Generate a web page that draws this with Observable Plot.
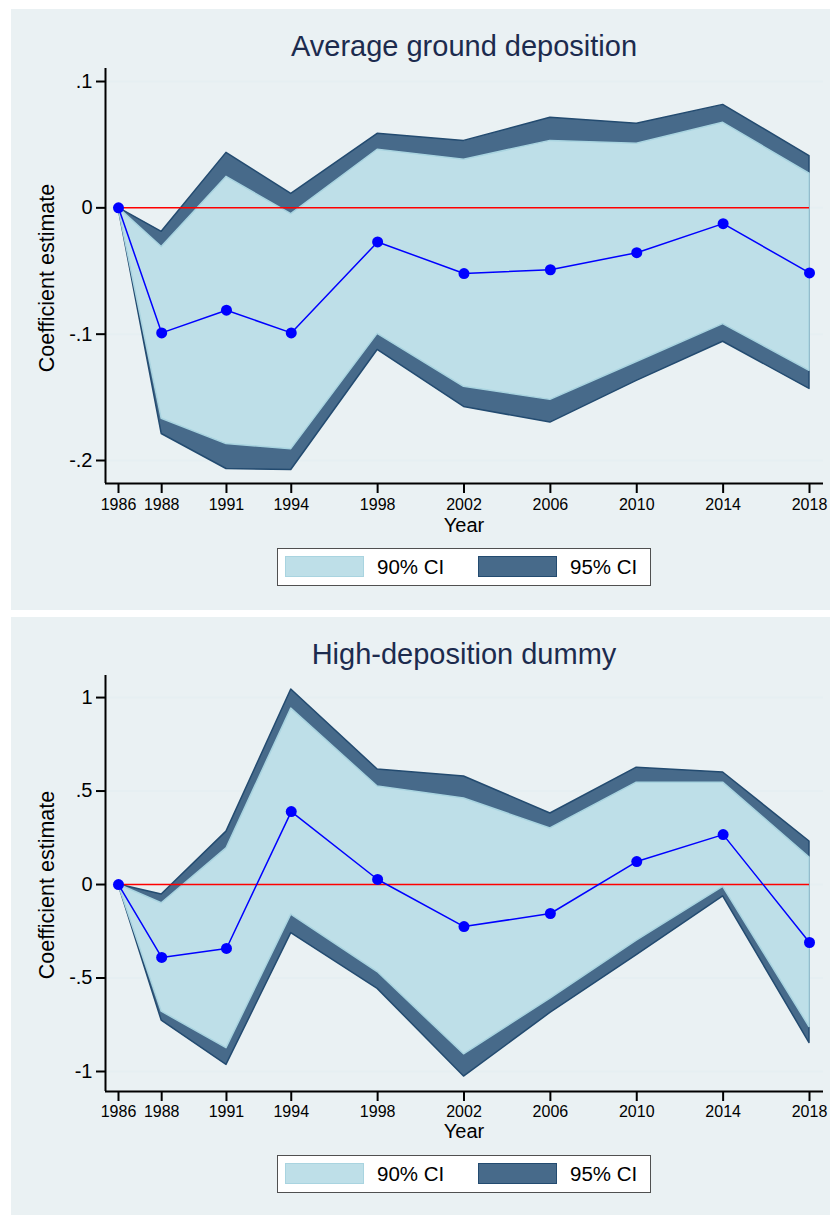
<!DOCTYPE html>
<html><head><meta charset="utf-8">
<script src="https://cdn.jsdelivr.net/npm/d3@7"></script>
<script src="https://cdn.jsdelivr.net/npm/@observablehq/plot@0.6"></script>
<style>
body{margin:0;background:#fff;width:839px;height:1215px;position:relative;overflow:hidden;font-family:"Liberation Sans",Arial,Helvetica,sans-serif;}
.panel{position:absolute;background:#EAF1F3;}
.t{position:absolute;white-space:nowrap;line-height:1;}
.legend{position:absolute;background:#fff;border:1.5px solid #505050;box-sizing:border-box;}
.sw{position:absolute;box-sizing:border-box;}
svg{overflow:visible;}
</style></head><body>
<script>
// ---- data ----
const years = [1986, 1988, 1991, 1994, 1998, 2002, 2006, 2010, 2014, 2018];

// Panel 1: Average ground deposition
const est1  = [0, -0.099, -0.081, -0.099, -0.027, -0.052, -0.049, -0.0355, -0.0125, -0.0515];
const hi95_1 = [0, -0.019, 0.0435, 0.011, 0.0586, 0.053, 0.0713, 0.0665, 0.0815, 0.041];
const hi90_1 = [0, -0.031, 0.0245, -0.005, 0.046, 0.038, 0.053, 0.0507, 0.0673, 0.027];
const lo90_1 = [0, -0.167, -0.187, -0.191, -0.0998, -0.1417, -0.152, -0.122, -0.092, -0.129];
const lo95_1 = [0, -0.179, -0.2067, -0.2075, -0.1125, -0.1576, -0.170, -0.137, -0.106, -0.1433];
const yTicks1 = [0.1, 0, -0.1, -0.2];
const yTickLabels1 = [".1", "0", "-.1", "-.2"];

// Panel 2: High-deposition dummy
const est2  = [0, -0.39, -0.342, 0.39, 0.027, -0.225, -0.155, 0.123, 0.267, -0.31];
const hi95_2 = [0, -0.053, 0.283, 1.043, 0.615, 0.578, 0.38, 0.625, 0.599, 0.23];
const hi90_2 = [0, -0.10, 0.193, 0.941, 0.524, 0.46, 0.30, 0.545, 0.545, 0.144];
const lo90_2 = [0, -0.68, -0.875, -0.161, -0.468, -0.908, -0.61, -0.30, -0.013, -0.762];
const lo95_2 = [0, -0.728, -0.965, -0.26, -0.558, -1.027, -0.687, -0.378, -0.063, -0.848];
const yTicks2 = [1, 0.5, 0, -0.5, -1];
const yTickLabels2 = ["1", ".5", "0", "-.5", "-1"];

const titles = ["Average ground deposition", "High-deposition dummy"];
const legendLabels = ["90% CI", "95% CI"];
const xLabel = "Year";
const yLabel = "Coefficient estimate";

// ---- style ----
const FONT = '"Liberation Sans", Arial, Helvetica, sans-serif';
const C90 = "#BEDFE8", C90s = "#A9D4E0";
const C95 = "#476A8A", C95s = "#234B70";
const TITLE_C = "#1C2B4E";

function text(str, x, baseline, size, opts = {}) {
  const d = document.createElement("div");
  d.className = "t";
  d.textContent = str;
  d.style.fontSize = size + "px";
  d.style.color = opts.color || "#000";
  d.style.top = (baseline - 0.8465 * size) + "px";
  d.style.left = x + "px";
  if (opts.anchor === "middle") d.style.transform = "translateX(-50%)";
  document.body.appendChild(d);
  return d;
}

function panel(cfg) {
  const bg = document.createElement("div");
  bg.className = "panel";
  Object.assign(bg.style, {left: cfg.left + "px", top: cfg.top + "px", width: cfg.w + "px", height: cfg.h + "px"});
  document.body.appendChild(bg);

  const data = years.map((y, i) => ({year: y, est: cfg.est[i], hi95: cfg.hi95[i], lo95: cfg.lo95[i], hi90: cfg.hi90[i], lo90: cfg.lo90[i]}));
  const mt = 10, mb = 40;
  const ml = cfg.x0 - cfg.left, mr = (cfg.left + cfg.w) - cfg.x1;
  const height = (cfg.y1 - cfg.y0) + mt + mb;
  const labelMap = new Map(cfg.yTicks.map((v, i) => [v, cfg.yTickLabels[i]]));
  const xDomain = [1985.398, 2018.648];

  const chart = Plot.plot({
    width: cfg.w, height,
    marginLeft: ml, marginRight: mr, marginTop: mt, marginBottom: mb,
    x: {domain: xDomain, label: null},
    y: {domain: cfg.yDomain, label: null},
    style: {background: "transparent", fontFamily: FONT, color: "#000", overflow: "visible"},
    marks: [
      Plot.ruleY(cfg.yTicks, {stroke: "#E6EFF2", strokeWidth: 2}),
      Plot.areaY(data, {x: "year", y1: "lo95", y2: "hi95", fill: C95, stroke: C95s, strokeWidth: 1.5}),
      Plot.areaY(data, {x: "year", y1: "lo90", y2: "hi90", fill: C90, stroke: C90s, strokeWidth: 1.5}),
      Plot.ruleY([0], {x1: years[0], x2: years[years.length - 1], stroke: "#FF0000", strokeWidth: 1.5}),
      Plot.line(data, {x: "year", y: "est", stroke: "#0000FF", strokeWidth: 1.5}),
      Plot.dot(data, {x: "year", y: "est", fill: "#0000FF", r: 5.5}),
      Plot.ruleX([xDomain[0]], {stroke: "#000", strokeWidth: 2}),
      Plot.ruleY([cfg.yDomain[0]], {stroke: "#000", strokeWidth: 2}),
      Plot.axisY(cfg.yTicks, {tickSize: 9, tickPadding: 4, fontSize: 20, strokeWidth: 2, tickFormat: d => labelMap.get(d), label: null}),
      Plot.axisX(years, {tickSize: 10, tickPadding: cfg.xPad, fontSize: 16, strokeWidth: 2, tickFormat: d => String(d), label: null})
    ]
  });
  chart.style.position = "absolute";
  chart.style.left = cfg.left + "px";
  chart.style.top = (cfg.y0 - mt) + "px";
  document.body.appendChild(chart);

  const cx = (cfg.x0 + cfg.x1) / 2;
  text(cfg.title, cx, cfg.titleBase, 29, {anchor: "middle", color: TITLE_C});
  text(xLabel, cx, cfg.yearBase, 20, {anchor: "middle"});

  const yl = document.createElement("div");
  yl.className = "t";
  yl.textContent = yLabel;
  Object.assign(yl.style, {fontSize: "21.5px", left: "48px", top: ((cfg.y0 + cfg.y1) / 2 + 2) + "px", transform: "translate(-50%,-50%) rotate(-90deg)"});
  document.body.appendChild(yl);

  // legend
  const lg = document.createElement("div");
  lg.className = "legend";
  Object.assign(lg.style, {left: "277px", top: cfg.legTop + "px", width: "374px", height: "38px"});
  document.body.appendChild(lg);
  const sw = [[C90, C90s, 285], [C95, C95s, 478]];
  sw.forEach(([f, s, x], i) => {
    const b = document.createElement("div");
    b.className = "sw";
    Object.assign(b.style, {left: x + "px", top: (cfg.legTop + 8) + "px", width: "79px", height: "21px", background: f, border: "1.5px solid " + s});
    document.body.appendChild(b);
    text(legendLabels[i], x + 92, cfg.legTop + 26.5, 20.5);
  });
}

panel({left: 11, top: 9, w: 819, h: 601, x0: 105, x1: 823, y0: 68, y1: 483,
  yDomain: [-0.2182, 0.1103], yTicks: yTicks1, yTickLabels: yTickLabels1,
  est: est1, hi95: hi95_1, lo95: lo95_1, hi90: hi90_1, lo90: lo90_1,
  title: titles[0], titleBase: 57, yearBase: 532, legTop: 548, xPad: 5});

panel({left: 11, top: 617, w: 819, h: 598, x0: 105, x1: 823, y0: 675, y1: 1091,
  yDomain: [-1.107, 1.118], yTicks: yTicks2, yTickLabels: yTickLabels2,
  est: est2, hi95: hi95_2, lo95: lo95_2, hi90: hi90_2, lo90: lo90_2,
  title: titles[1], titleBase: 665, yearBase: 1138, legTop: 1155, xPad: 4});
</script></body></html>
